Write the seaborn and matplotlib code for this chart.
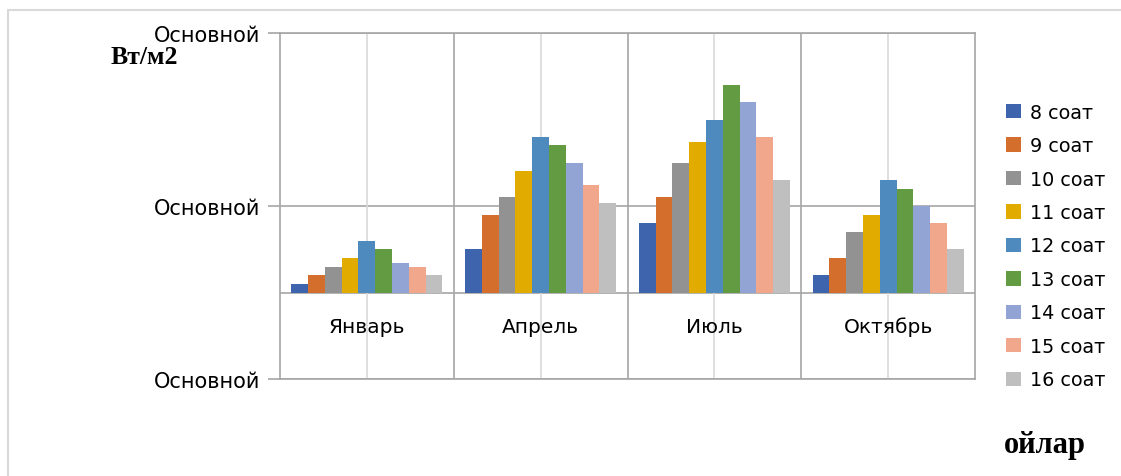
import matplotlib
matplotlib.use("Agg")
import matplotlib.pyplot as plt
import seaborn as sns
import pandas as pd
from matplotlib.patches import Rectangle

# data (bar heights measured from the category axis)
months = ['Январь', 'Апрель', 'Июль', 'Октябрь']
hours = ['8 соат', '9 соат', '10 соат', '11 соат', '12 соат',
         '13 соат', '14 соат', '15 соат', '16 соат']
jan = [25, 50, 75, 100, 150, 125, 85, 75, 50]
apr = [125, 225, 275, 350, 450, 425, 375, 310, 260]
jul = [200, 275, 375, 435, 500, 600, 550, 450, 325]
octb = [50, 100, 175, 225, 325, 300, 250, 200, 125]
colors = ['#3E64AE', '#D46E2C', '#929292', '#E2AB00', '#4F8ABE',
          '#629B41', '#91A4D4', '#F0A78B', '#BFBFBF']
yticks = [-250, 250, 750]
ytick_labels = ['Основной', 'Основной', 'Основной']

rows = []
for m, vals in zip(months, [jan, apr, jul, octb]):
    for h, v in zip(hours, vals):
        rows.append({'month': m, 'hour': h, 'value': v})
df = pd.DataFrame(rows)

sns.set_theme(style='white')
plt.rcParams['font.family'] = ['DejaVu Sans']
plt.rcParams['text.color'] = 'black'
plt.rcParams['ytick.color'] = 'black'

fig = plt.figure(figsize=(11.21, 4.77), dpi=100)
ax = fig.add_axes([280/1121, (477-380)/477, (975-280)/1121, (380-34)/477])

sns.barplot(data=df, x='month', y='value', hue='hour', hue_order=hours,
            order=months, palette=colors, saturation=1, width=0.87,
            linewidth=0, ax=ax)

ax.set_xlim(-0.5, 3.5)
ax.set_ylim(-250, 750)
ax.set_yticks(yticks, ytick_labels)
ax.set_xticks([])
ax.set_xlabel('')
ax.set_ylabel('')

# grid lines
for y in yticks + [0]:
    ax.axhline(y, color='#A6A6A6', lw=1.2, zorder=0.5)
for b in [0.5, 1.5, 2.5]:
    ax.axvline(b, color='#A6A6A6', lw=1.2, zorder=0.5)
for c in range(4):
    ax.axvline(c, color='#D9D9D9', lw=1.2, zorder=0.5)

for s in ax.spines.values():
    s.set_color('#A6A6A6')
    s.set_linewidth(1.2)
ax.tick_params(axis='y', length=8.5, color='#A6A6A6', width=1.2,
               labelsize=15, labelcolor='black', pad=5.5, left=True)

for i, m in enumerate(months):
    ax.text(i, -97, m, ha='center', va='center', fontsize=14.5, color='black')

fig.text(111/1121, 1 - 58/477, 'Вт/м2', family='Liberation Serif',
         weight='bold', fontsize=18.5, va='center', color='black')
fig.text(1004/1121, 1 - 445/477, 'ойлар', family='Liberation Serif',
         weight='bold', fontsize=22, va='center', color='black')

fig.add_artist(Rectangle((8/1121, -0.1), 1.2, (477-11)/477 + 0.1,
                         transform=fig.transFigure, fill=False,
                         edgecolor='#D9D9D9', lw=1.5))

h, l = ax.get_legend_handles_labels()
ax.legend(h, l, loc='center left', bbox_to_anchor=(1006/1121, (477-247)/477),
          bbox_transform=fig.transFigure, frameon=False, handlelength=0.78,
          handleheight=0.78, labelspacing=0.755, fontsize=13.8,
          handletextpad=0.47, borderpad=0, borderaxespad=0)

fig.savefig('out.png', dpi=100)
